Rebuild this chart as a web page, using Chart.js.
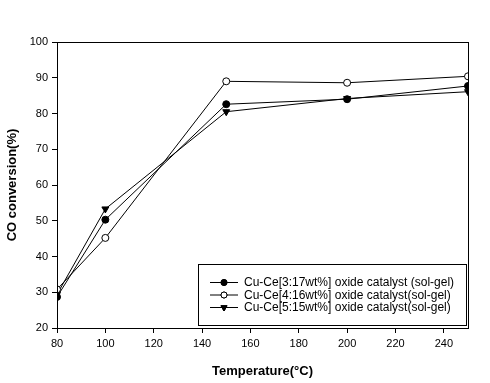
<!DOCTYPE html>
<html>
<head>
<meta charset="utf-8">
<script src="https://cdn.jsdelivr.net/npm/chart.js@4/dist/chart.umd.min.js"></script>
<style>
  body { margin: 0; background: #fff; }
  canvas { display: block; }
</style>
</head>
<body>
<canvas id="myChart" width="490" height="383"></canvas>
<script>
const temps = [80, 100, 150, 200, 250];
const seriesNames = [
  'Cu-Ce[3:17wt%] oxide catalyst (sol-gel)',
  'Cu-Ce[4:16wt%] oxide catalyst(sol-gel)',
  'Cu-Ce[5:15wt%] oxide catalyst(sol-gel)'
];
const cuCe317 = [28.7, 50.3, 82.6, 84.0, 87.7];
const cuCe416 = [30.8, 45.2, 89.0, 88.6, 90.4];
const cuCe515 = [29.4, 53.3, 80.5, 84.2, 86.1];

const xTicks = [80, 100, 120, 140, 160, 180, 200, 220, 240];
const yTicks = [20, 30, 40, 50, 60, 70, 80, 90, 100];

const FONT = 'Arial, "Liberation Sans", sans-serif';

const toPoints = vals => temps.map((t, i) => ({ x: t, y: vals[i] }));

const styles = [
  { pointStyle: 'circle', bg: '#000', rot: 0, r: 3.5, lr: 3 },
  { pointStyle: 'circle', bg: '#fff', rot: 0, r: 3.5, lr: 3 },
  { pointStyle: 'triangle', bg: '#000', rot: 180, r: 4, lr: 3.5 }
];

const datasets = [cuCe317, cuCe416, cuCe515].map((vals, i) => ({
  label: seriesNames[i],
  data: toPoints(vals),
  borderColor: '#000',
  borderWidth: 1,
  pointStyle: styles[i].pointStyle,
  pointRotation: styles[i].rot,
  pointRadius: styles[i].r,
  pointBackgroundColor: styles[i].bg,
  pointBorderColor: '#000',
  pointBorderWidth: 1,
  tension: 0,
  fill: false
}));

// frame + legend box inside the plot
const framePlugin = {
  id: 'frame_and_legend',
  afterDraw: (chart) => {
    const ctx = chart.ctx;
    const { left, top, right, bottom } = chart.chartArea;
    ctx.save();
    ctx.strokeStyle = '#000';
    ctx.lineWidth = 1;
    ctx.strokeRect(Math.round(left) + 0.5, Math.round(top) + 0.5,
      Math.round(right - left), Math.round(bottom - top));

    // legend
    const bx = 198.5, by = 264.5, bw = 268, bh = 61;
    ctx.fillStyle = '#fff';
    ctx.fillRect(bx, by, bw, bh);
    ctx.strokeRect(bx, by, bw, bh);
    ctx.font = '12px ' + FONT;
    ctx.textBaseline = 'middle';
    ctx.textAlign = 'left';
    const rows = [282, 294.5, 307];
    datasets.forEach((ds, i) => {
      const y = rows[i];
      ctx.beginPath();
      ctx.moveTo(210, y + 0.5);
      ctx.lineTo(238, y + 0.5);
      ctx.stroke();
      Chart.helpers.drawPoint(ctx, {
        pointStyle: ds.pointStyle,
        rotation: ds.pointRotation,
        radius: styles[i].lr,
        borderWidth: 1
      }, 224, y + 0.5);
      ctx.fillStyle = ds.pointBackgroundColor;
      ctx.strokeStyle = '#000';
      ctx.fill();
      ctx.stroke();
      ctx.fillStyle = '#000';
      ctx.fillText(ds.label, 244, y + 1);
    });
    ctx.restore();
  }
};

const config = {
  type: 'line',
  data: { datasets: datasets },
  options: {
    responsive: false,
    animation: false,
    layout: { padding: { left: 0, top: 42, right: 22, bottom: 4 } },
    plugins: {
      legend: { display: false },
      tooltip: { enabled: false }
    },
    scales: {
      x: {
        type: 'linear',
        min: 80,
        max: 250,
        afterBuildTicks: (scale) => { scale.ticks = xTicks.map(v => ({ value: v })); },
        afterFit: (scale) => { scale.height = 51; },
        border: { display: false },
        grid: { drawOnChartArea: false, tickLength: 5, color: '#000' },
        ticks: { color: '#000', font: { family: FONT, size: 11 }, padding: 4, maxRotation: 0 },
        title: {
          display: true,
          text: 'Temperature(°C)',
          color: '#000',
          font: { family: FONT, size: 13, weight: 'bold' },
          padding: { top: 10, bottom: 0 }
        }
      },
      y: {
        min: 20,
        max: 100,
        afterBuildTicks: (scale) => { scale.ticks = yTicks.map(v => ({ value: v })); },
        afterFit: (scale) => { scale.width = 57; },
        border: { display: false },
        grid: { drawOnChartArea: false, tickLength: 5, color: '#000' },
        ticks: { color: '#000', font: { family: FONT, size: 11 }, padding: 4 },
        title: {
          display: true,
          text: 'CO conversion(%)',
          color: '#000',
          font: { family: FONT, size: 13, weight: 'bold' },
          padding: { top: 5, bottom: 0 }
        }
      }
    }
  },
  plugins: [framePlugin]
};

const myChart = new Chart(document.getElementById('myChart').getContext('2d'), config);
</script>
</body>
</html>
